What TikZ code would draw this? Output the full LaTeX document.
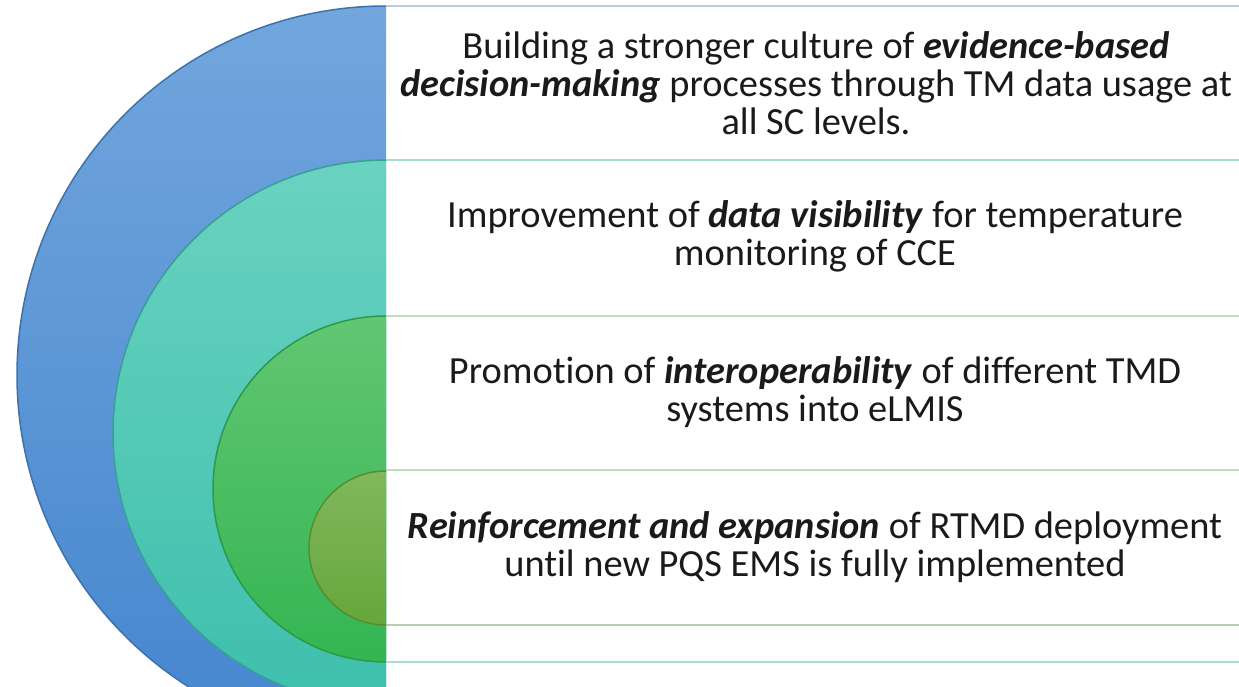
\documentclass[tikz,border=0pt]{standalone}
\usepackage{fontspec}
\setmainfont[Ligatures=NoCommon]{Carlito}

\definecolor{blueTop}{HTML}{72A6DD}
\definecolor{blueBot}{HTML}{4586CE}
\definecolor{tealTop}{HTML}{6AD2C0}
\definecolor{tealBot}{HTML}{3EBFAD}
\definecolor{greenTop}{HTML}{62C672}
\definecolor{greenBot}{HTML}{34B552}
\definecolor{oliveTop}{HTML}{80B85B}
\definecolor{oliveBot}{HTML}{67A63B}
\definecolor{sepBlue}{HTML}{B3CBE4}
\definecolor{sepTeal}{HTML}{A6DDD3}
\definecolor{sepGreen}{HTML}{BCDDBC}
\definecolor{sepOlive}{HTML}{B6CFAE}
\definecolor{txt}{HTML}{1A1A1A}

\tikzset{
  ring/.style 2 args={top color=#1, bottom color=#2, draw=#2!85!black, line width=1.5pt},
  sepline/.style={line width=1.3pt},
  rowtext/.style={align=center, text=txt, inner sep=0pt, font=\fontsize{38.4}{37.8}\selectfont}
}
\newcommand{\bi}[1]{\textbf{\textit{#1}}}

\begin{document}
\begin{tikzpicture}[x={(1pt,0)}, y={(0,-1pt)}]
   \useasboundingbox[fill=white] (0,0) rectangle (1239,686);
   % nested half discs
   \begin{scope}
     \clip (0,0) rectangle (386,686);
     \foreach \cy/\r/\a/\b in
       {375/369/blueTop/blueBot,
        433/273/tealTop/tealBot,
        489/173/greenTop/greenBot,
        548/77/oliveTop/oliveBot}
       \path[ring={\a}{\b}] (386,\cy) circle (\r pt);
   \end{scope}
   % row separators
   \foreach \y/\c in
     {  6/sepBlue,
      160/sepTeal,
      316/sepGreen,
      470/sepGreen,
      625/sepOlive,
      662/sepTeal}
     \draw[sepline,\c] (386,\y) -- (1239,\y);
   % row texts
   \node[rowtext] (row1) at (816,83)
     {Building a stronger culture of \bi{evidence-based}\\
      \bi{decision-making} processes through TM data usage at\\
      all SC levels.};
   \node[rowtext] (row2) at (815,236)
     {Improvement of \bi{data visibility} for temperature\\
      monitoring of CCE};
   \node[rowtext] (row3) at (815,392)
     {Promotion of \bi{interoperability} of different TMD\\
      systems into eLMIS};
   \node[rowtext] (row4) at (815,547)
     {\bi{Reinforcement and expansion} of RTMD deployment\\
      until new PQS EMS is fully implemented};
\end{tikzpicture}
\end{document}
